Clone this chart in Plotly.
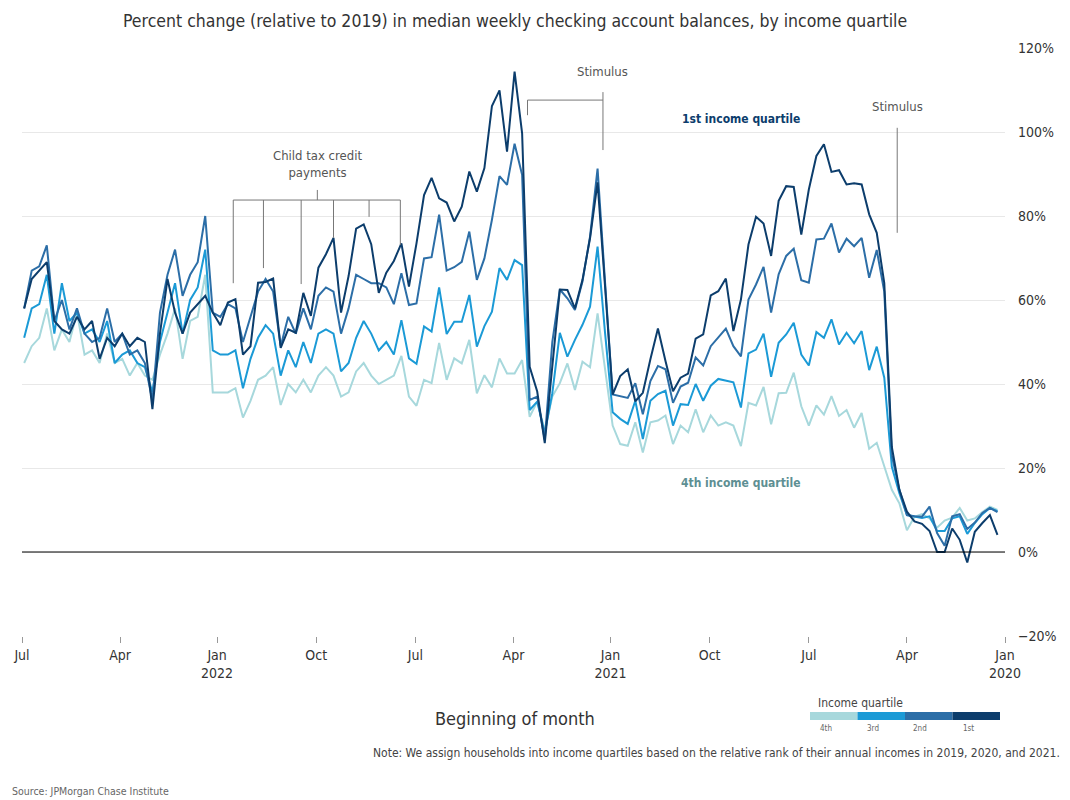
import pandas as pd
import plotly.graph_objects as go

# Weekly dates (first week of Jan 2020 through end of Jun 2022)
week_start = "2020-01-08"
n_weeks = 130
dates = pd.date_range(week_start, periods=n_weeks, freq="7D")

q1 = [4.1, 8.8, 6.9, 4.8, -2.5, 2.9, 5.6, 0.0, 0.0, 5.0, 6.7, 7.3, 9.6, 14.8, 25.0, 64.0,
      76.0, 80.4, 87.5, 87.8, 87.5, 90.9, 90.5, 97.1, 94.3, 86.3, 75.6, 86.9, 87.1, 83.6, 70.5, 78.2,
      79.8, 73.2, 60.1, 52.6, 65.1, 62.1, 61.1, 51.8, 50.8, 42.5, 41.5, 38.3, 45.5, 53.2, 45.9, 37.9,
      35.9, 43.5, 41.9, 37.5, 63.0, 88.0, 74.7, 64.8, 58.0, 62.4, 62.5, 45.0, 25.9, 38.2, 44.1, 99.7,
      114.4, 95.3, 109.9, 106.2, 91.4, 85.8, 90.6, 82.2, 78.7, 83.2, 84.2, 89.1, 85.0, 73.5, 63.2, 73.5,
      69.3, 66.5, 61.7, 73.3, 78.0, 77.0, 65.7, 57.0, 74.8, 70.9, 67.7, 56.2, 61.7, 52.2, 53.0, 48.6,
      65.1, 64.3, 64.1, 49.0, 47.0, 60.2, 59.4, 54.0, 57.0, 61.0, 59.0, 57.0, 52.0, 57.0, 65.0, 52.0,
      34.0, 50.0, 51.0, 49.0, 52.0, 49.0, 51.0, 46.0, 55.0, 53.0, 56.0, 52.0, 53.0, 55.0, 69.0, 67.0,
      65.0, 58.0]
q2 = [9.5, 10.5, 9.3, 7.0, 5.5, 9.0, 8.5, 1.5, 4.5, 10.8, 8.4, 8.5, 8.8, 14.8, 23.0, 62.0,
      71.9, 65.3, 74.8, 72.8, 74.6, 71.3, 78.2, 74.6, 74.4, 64.1, 64.7, 72.2, 70.5, 66.1, 57.0, 67.9,
      63.7, 60.1, 46.6, 49.0, 53.2, 51.0, 49.0, 44.4, 46.3, 40.3, 39.4, 35.5, 43.5, 44.3, 40.7, 32.8,
      40.2, 36.7, 37.1, 37.5, 64.0, 91.3, 75.1, 64.4, 57.6, 60.4, 62.5, 50.0, 26.7, 37.0, 36.2, 89.8,
      97.2, 87.4, 89.5, 79.1, 69.9, 64.8, 76.3, 69.1, 67.8, 67.0, 80.3, 70.2, 69.9, 59.2, 58.8, 66.4,
      59.0, 63.0, 64.0, 64.0, 65.0, 66.0, 58.0, 52.0, 62.0, 63.0, 61.0, 53.0, 58.0, 52.0, 56.0, 49.0,
      62.0, 65.0, 62.0, 56.0, 50.0, 58.0, 59.0, 56.0, 57.0, 80.0, 69.0, 66.0, 61.0, 72.0, 66.0, 57.0,
      36.0, 45.0, 48.0, 47.0, 52.0, 50.0, 58.0, 51.0, 50.0, 52.0, 58.0, 53.0, 60.0, 55.0, 73.0, 68.0,
      67.0, 58.0]
q3 = [9.7, 10.5, 9.0, 6.9, 4.3, 8.5, 8.0, 5.0, 5.0, 8.5, 8.1, 8.4, 8.8, 14.0, 20.3, 41.5,
      48.9, 43.3, 52.6, 49.7, 52.2, 49.4, 55.4, 51.0, 52.4, 44.4, 47.0, 54.6, 51.8, 49.8, 41.7, 52.0,
      48.2, 47.3, 34.4, 40.4, 40.8, 41.2, 39.6, 36.0, 40.0, 35.0, 35.2, 30.1, 38.4, 37.6, 36.0, 26.9,
      36.0, 30.5, 31.7, 33.3, 52.0, 72.7, 58.4, 54.1, 50.5, 46.5, 52.2, 37.8, 28.3, 35.8, 33.8, 68.3,
      69.5, 64.8, 67.6, 57.2, 53.8, 48.9, 61.2, 54.8, 54.8, 51.9, 63.0, 52.5, 53.7, 44.8, 46.1, 55.2,
      47.0, 50.0, 48.0, 52.0, 55.0, 51.0, 45.0, 43.0, 52.0, 53.0, 52.0, 45.0, 50.0, 44.0, 48.0, 42.0,
      52.0, 54.0, 51.0, 46.0, 39.0, 48.0, 47.0, 47.0, 48.0, 72.0, 63.0, 60.0, 52.0, 64.0, 57.0, 50.0,
      38.0, 44.0, 45.0, 48.0, 47.0, 45.0, 55.0, 50.0, 53.0, 52.0, 57.0, 55.0, 64.0, 52.0, 66.0, 59.0,
      58.0, 51.0]
q4 = [10.0, 10.8, 9.5, 8.0, 7.5, 10.5, 8.2, 7.5, 5.8, 8.0, 9.0, 8.4, 5.2, 11.6, 14.8, 20.4,
      26.0, 24.6, 33.1, 29.6, 33.8, 32.4, 37.1, 32.7, 34.9, 30.1, 34.7, 42.7, 37.9, 37.8, 30.4, 39.3,
      34.9, 35.5, 25.2, 30.1, 30.9, 30.1, 32.5, 28.5, 34.0, 28.5, 30.1, 25.7, 32.5, 31.3, 30.9, 23.7,
      30.9, 25.3, 25.7, 30.1, 43.0, 56.8, 44.0, 45.3, 38.6, 44.9, 40.2, 37.0, 29.0, 35.8, 32.2, 45.7,
      42.5, 42.5, 46.1, 39.2, 42.1, 37.8, 50.5, 44.9, 46.1, 41.0, 49.8, 40.2, 41.0, 34.8, 37.0, 46.7,
      42.0, 41.0, 40.0, 42.0, 45.0, 43.0, 38.0, 37.0, 42.0, 44.0, 42.0, 38.0, 41.0, 38.0, 40.0, 35.0,
      44.0, 42.0, 41.0, 36.0, 32.0, 39.0, 38.0, 38.0, 38.0, 66.0, 56.0, 55.0, 46.0, 58.0, 52.0, 47.0,
      41.0, 42.0, 45.0, 42.0, 46.0, 45.0, 52.0, 45.0, 48.0, 47.0, 57.0, 50.0, 53.0, 48.0, 58.0, 51.0,
      49.0, 45.0]

series_names = ["4th", "3rd", "2nd", "1st"]
series_values = [q4, q3, q2, q1]
colors = ["#a7d8dc", "#1b9ad6", "#2c6ea7", "#0c3d6c"]

tick_dates = ["2020-01-01", "2020-04-01", "2020-07-01", "2020-10-01", "2021-01-01", "2021-04-01",
              "2021-07-01", "2021-10-01", "2022-01-01", "2022-04-01", "2022-07-01"]
tick_labels = ["Jan<br>2020", "Apr", "Jul", "Oct", "Jan<br>2021", "Apr", "Jul", "Oct",
               "Jan<br>2022", "Apr", "Jul"]
y_ticks = [-20, 0, 20, 40, 60, 80, 100, 120]
y_tick_labels = ["\u221220%", "0%", "20%", "40%", "60%", "80%", "100%", "120%"]

ctc_dates = ["2021-07-15", "2021-08-13", "2021-09-15", "2021-10-15", "2021-11-19", "2021-12-17"]
ctc_bottoms = [73.1, 79.8, 74.8, 63.8, 67.6, 64.0]

FONT = "Liberation Sans Narrow, DejaVu Sans Condensed, Roboto, sans-serif"
TXT = "#333333"

fig = go.Figure()
for name, vals, col in zip(series_names, series_values, colors):
    fig.add_trace(go.Scatter(x=dates, y=vals, mode="lines", name=name,
                             line=dict(color=col, width=2), hoverinfo="skip"))

shapes = []
line_style = dict(color="#777777", width=1)
# Child tax credit bracket
shapes.append(dict(type="line", xref="x", yref="y", x0=ctc_dates[0], x1=ctc_dates[-1], y0=83.8, y1=83.8, line=line_style))
shapes.append(dict(type="line", xref="x", yref="y", x0="2021-09-30", x1="2021-09-30", y0=83.8, y1=86.2, line=line_style))
for d, b in zip(ctc_dates, ctc_bottoms):
    shapes.append(dict(type="line", xref="x", yref="y", x0=d, x1=d, y0=83.8, y1=b, line=line_style))
# Stimulus bracket (Jan 2021 / Mar 2021)
shapes.append(dict(type="line", xref="x", yref="y", x0="2021-01-08", x1="2021-03-19", y0=107.6, y1=107.6, line=line_style))
shapes.append(dict(type="line", xref="x", yref="y", x0="2021-03-19", x1="2021-03-19", y0=107.6, y1=104.0, line=line_style))
shapes.append(dict(type="line", xref="x", yref="y", x0="2021-01-08", x1="2021-01-08", y0=109.5, y1=95.7, line=line_style))
# Stimulus Apr 2020
shapes.append(dict(type="line", xref="x", yref="y", x0="2020-04-10", x1="2020-04-10", y0=101.0, y1=76.0, line=line_style))
# zero line
shapes.append(dict(type="line", xref="paper", yref="y", x0=0, x1=1, y0=0, y1=0, line=dict(color="#000000", width=1.2)))

# layout geometry: the page adds an 8px body margin, so the figure is offset by 8px
OFF = 8
W, H = 1062, 792
L, R, T, B = 14, 65, 40, 164
pw, ph = W - L - R, H - T - B
def px(xp):  # xp: page pixel x
    return (xp - OFF - L) / pw
def py(yp):  # yp: page pixel y
    return (H - B - (yp - OFF)) / ph

seg_x = [810, 857.5, 905, 952.5, 1000]
for i, col in enumerate(colors):
    shapes.append(dict(type="rect", xref="paper", yref="paper", x0=px(seg_x[i]), x1=px(seg_x[i + 1]),
                       y0=py(720), y1=py(712), fillcolor=col, line=dict(width=0)))

annotations = [
    dict(text="Percent change (relative to 2019) in median weekly checking account balances, by income quartile",
         xref="paper", yref="paper", x=px(515), y=py(9), showarrow=False,
         font=dict(size=17.5, color=TXT, family=FONT), xanchor="center", yanchor="top"),
    dict(text="Stimulus", xref="x", yref="y", x="2021-01-08", y=114.5, showarrow=False,
         font=dict(size=13, color="#555555", family=FONT)),
    dict(text="Stimulus", xref="x", yref="y", x="2020-04-10", y=106.0, showarrow=False,
         font=dict(size=13, color="#555555", family=FONT)),
    dict(text="Child tax credit<br>payments", xref="x", yref="y", x="2021-09-30", y=92.4, showarrow=False,
         font=dict(size=13, color="#555555", family=FONT)),
    dict(text="<b>1st income quartile</b>", xref="x", yref="y", x="2020-09-02", y=103.0, showarrow=False,
         font=dict(size=12, color="#0c3d6c", family=FONT)),
    dict(text="<b>4th income quartile</b>", xref="x", yref="y", x="2020-09-02", y=16.4, showarrow=False,
         font=dict(size=12, color="#5e8f93", family=FONT)),
    dict(text="Beginning of month", xref="paper", yref="paper", x=px(515), y=py(718), showarrow=False,
         font=dict(size=18, color=TXT, family=FONT), yanchor="middle"),
    dict(text="Income quartile", xref="paper", yref="paper", x=px(905), y=py(703), showarrow=False,
         font=dict(size=12, color="#444444", family=FONT), yanchor="middle"),
    dict(text="Note: We assign households into income quartiles based on the relative rank of their annual incomes in 2019, 2020, and 2021.",
         xref="paper", yref="paper", x=px(1062), y=py(753), showarrow=False, xanchor="right", yanchor="middle",
         font=dict(size=12, color="#444444", family=FONT)),
    dict(text="Source: JPMorgan Chase Institute", xref="paper", yref="paper", x=px(10), y=py(791),
         showarrow=False, xanchor="left", yanchor="middle", font=dict(size=10.5, color="#666666", family=FONT)),
]
for i, nm in enumerate(series_names):
    annotations.append(dict(text=nm, xref="paper", yref="paper", x=px((seg_x[i] + seg_x[i + 1]) / 2),
                            y=py(728), showarrow=False, yanchor="middle",
                            font=dict(size=8, color="#666666", family=FONT)))

fig.update_layout(
    width=W, height=H,
    margin=dict(l=L, r=R, t=T, b=B, autoexpand=False),
    paper_bgcolor="white", plot_bgcolor="white",
    showlegend=False,
    shapes=shapes, annotations=annotations,
    font=dict(family=FONT, color=TXT),
    xaxis=dict(range=["2022-07-01", "2020-01-01"], tickvals=tick_dates, ticktext=tick_labels,
               showgrid=False, zeroline=False, ticks="outside", ticklen=6, tickcolor="#999999",
               tickfont=dict(size=14, color=TXT, family=FONT), showline=False, automargin=False),
    yaxis=dict(range=[-20, 120], tickvals=y_ticks, ticktext=y_tick_labels, side="right",
               showgrid=True, gridcolor="#e8e8e8", gridwidth=1, zeroline=False,
               tickfont=dict(size=14, color=TXT, family=FONT), ticklabelstandoff=12, automargin=False),
)

fig.write_html("out.html")
